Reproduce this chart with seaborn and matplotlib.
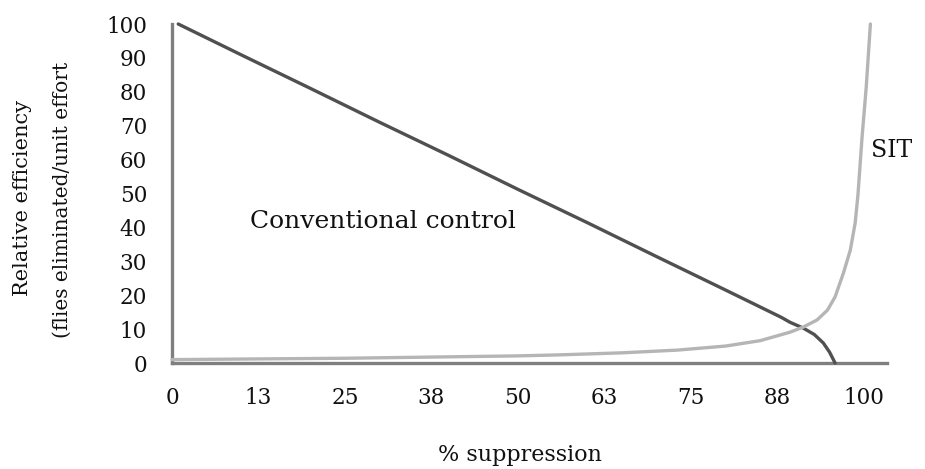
import matplotlib
matplotlib.use("Agg")
import matplotlib.pyplot as plt
import seaborn as sns
import pandas as pd

# Data
conv_x = [0.9, 10, 20, 30, 40, 50, 60, 70, 80, 85, 88, 89.3, 91.2, 92.8, 94.1, 95.0, 95.5, 95.8]
conv_y = [100, 90.9, 81.0, 71.0, 61.2, 51.2, 41.4, 31.4, 21.5, 16.5, 13.5, 12.0, 10.3, 8.4, 5.9, 3.2, 1.2, 0.0]

sit_x = [0, 25, 50, 56, 65, 73, 80, 85, 89.3, 91.2, 93.2, 94.7, 95.8, 97.0, 98.0, 98.7, 99.1, 99.7, 100.3, 100.9]
sit_y = [1.0, 1.4, 2.1, 2.4, 3.0, 3.8, 5.0, 6.6, 9.1, 10.6, 12.7, 15.6, 19.5, 26.5, 33.3, 41.3, 49.5, 66.7, 81.4, 100.0]

tick_pos = [0, 12.5, 25, 37.5, 50, 62.5, 75, 87.5, 100]
tick_labels = ["0", "13", "25", "38", "50", "63", "75", "88", "100"]
y_ticks = [0, 10, 20, 30, 40, 50, 60, 70, 80, 90, 100]

sns.set_style("white")
plt.rcParams['font.family'] = ['DejaVu Serif']

fig = plt.figure(figsize=(9.25, 4.69), dpi=100)
ax = fig.add_axes([172/925, 1-363/469, (887-172)/925, (363-24)/469])

df_conv = pd.DataFrame({"x": conv_x, "y": conv_y})
df_sit = pd.DataFrame({"x": sit_x, "y": sit_y})
sns.lineplot(data=df_conv, x="x", y="y", ax=ax, color="#505050", linewidth=2.4, sort=False, clip_on=False)
sns.lineplot(data=df_sit, x="x", y="y", ax=ax, color="#b5b5b5", linewidth=2.4, sort=False, clip_on=False)

ax.set_xlim(0, 103.3)
ax.set_ylim(0, 100)
ax.set_xticks(tick_pos)
ax.set_xticklabels(tick_labels)
ax.set_yticks(y_ticks)
ax.set_yticklabels([str(v) for v in y_ticks])
ax.set_xlabel("")
ax.set_ylabel("")

for s in ["top", "right"]:
    ax.spines[s].set_visible(False)
for s in ["left", "bottom"]:
    ax.spines[s].set_color("#7f7f7f")
    ax.spines[s].set_linewidth(2.4)
    ax.spines[s].set_zorder(1)

ax.tick_params(axis="both", which="major", direction="out", color="#7f7f7f",
               width=1.8, labelsize=15.5, labelcolor="#111111")
ax.tick_params(axis="y", length=7, pad=11)
ax.tick_params(axis="x", length=6, pad=11)

ax.text(11.3, 41.6, "Conventional control", fontsize=18, va="center", ha="left", color="#111111")
ax.text(101.0, 62.8, "SIT", fontsize=17, va="center", ha="left", color="#111111")

fig.text(23/925, 1-198/469, "Relative efficiency", rotation=90, fontsize=15,
         ha="center", va="center", color="#111111")
fig.text(62/925, 1-200/469, "(flies eliminated/unit effort", rotation=90, fontsize=14.5,
         ha="center", va="center", color="#111111")
fig.text(520/925, 1-455/469, "% suppression", fontsize=16, ha="center", va="center", color="#111111")

fig.savefig("out.png", dpi=100)
